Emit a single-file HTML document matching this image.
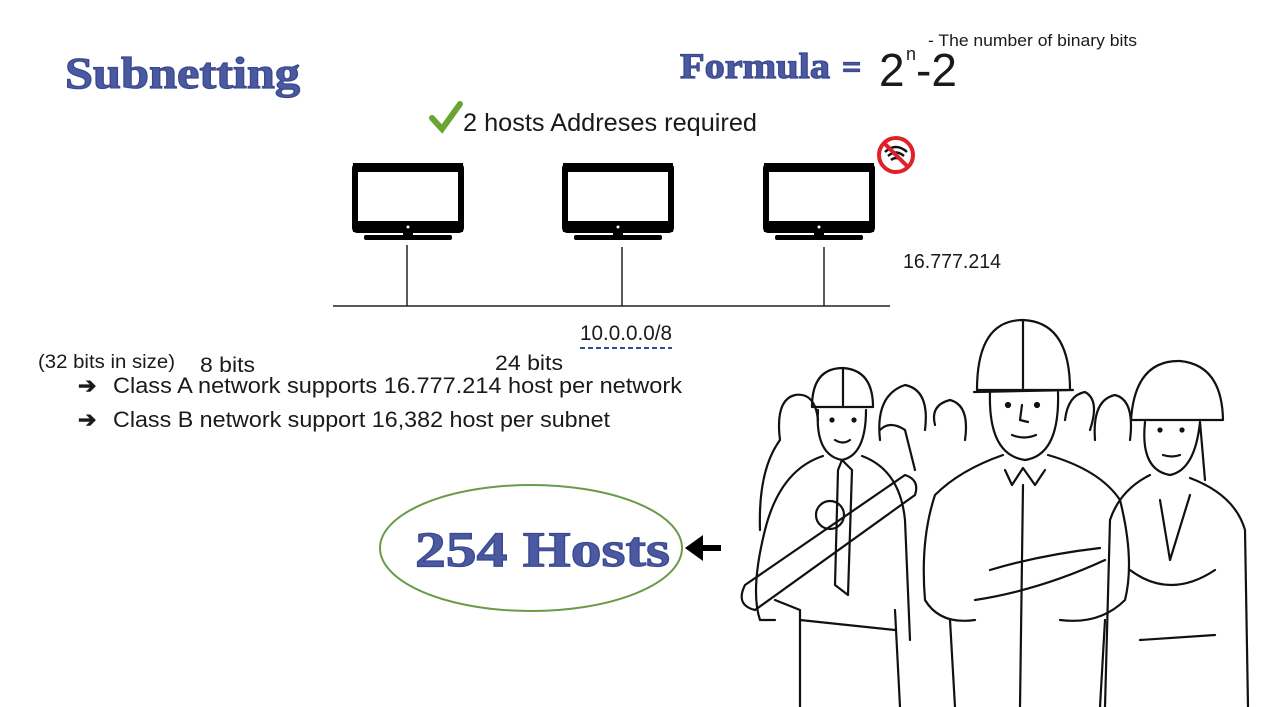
<!DOCTYPE html>
<html><head><meta charset="utf-8"><style>
html,body{margin:0;padding:0;background:#fff;}
svg{display:block;}
.hand{font-family:"Liberation Sans",sans-serif;fill:#1a1a1a;}
.title{font-family:"Liberation Serif",serif;font-weight:bold;fill:#4b5aa0;stroke:#3a4890;stroke-width:1.2;}
.ln{fill:none;stroke:#111;stroke-width:2.2;stroke-linecap:round;stroke-linejoin:round;}
</style></head><body>
<svg width="1262" height="707" viewBox="0 0 1262 707">
<text class="title" x="65" y="88" font-size="44" textLength="235" lengthAdjust="spacingAndGlyphs">Subnetting</text>
<text class="title" x="680" y="78" font-size="36" textLength="150" lengthAdjust="spacingAndGlyphs">Formula</text>
<text class="title" x="842" y="78" font-size="34">=</text>
<text class="hand" x="879" y="86" font-size="46">2</text>
<text class="hand" x="906" y="60" font-size="18">n</text>
<text class="hand" x="916" y="86" font-size="46">-2</text>
<text class="hand" x="928" y="46" font-size="17" textLength="209" lengthAdjust="spacingAndGlyphs">- The number of binary bits</text>
<path d="M432 118 L442 129 L460 104" fill="none" stroke="#6aa532" stroke-width="6" stroke-linecap="round"/>
<text class="hand" x="463" y="131" font-size="25" textLength="294" lengthAdjust="spacingAndGlyphs">2 hosts Addreses required</text>
<g>
<rect x="355" y="166" width="106" height="64" fill="#fff" stroke="#000" stroke-width="6" rx="2"/><rect x="353" y="163" width="110" height="9" fill="#000"/><rect x="353" y="221" width="110" height="11" fill="#000"/><rect x="403" y="230" width="10" height="6" fill="#000"/><rect x="364" y="235" width="88" height="5" fill="#000" rx="2"/><circle cx="408" cy="227" r="1.5" fill="#fff"/></g>
<g>
<rect x="565" y="166" width="106" height="64" fill="#fff" stroke="#000" stroke-width="6" rx="2"/><rect x="563" y="163" width="110" height="9" fill="#000"/><rect x="563" y="221" width="110" height="11" fill="#000"/><rect x="613" y="230" width="10" height="6" fill="#000"/><rect x="574" y="235" width="88" height="5" fill="#000" rx="2"/><circle cx="618" cy="227" r="1.5" fill="#fff"/></g>
<g>
<rect x="766" y="166" width="106" height="64" fill="#fff" stroke="#000" stroke-width="6" rx="2"/><rect x="764" y="163" width="110" height="9" fill="#000"/><rect x="764" y="221" width="110" height="11" fill="#000"/><rect x="814" y="230" width="10" height="6" fill="#000"/><rect x="775" y="235" width="88" height="5" fill="#000" rx="2"/><circle cx="819" cy="227" r="1.5" fill="#fff"/></g>
<g stroke="#222" stroke-width="1.5">
<line x1="407" y1="245" x2="407" y2="306"/><line x1="622" y1="247" x2="622" y2="306"/><line x1="824" y1="247" x2="824" y2="306"/><line x1="333" y1="306" x2="890" y2="306"/></g>
<g>
<circle cx="896" cy="155" r="17" fill="#fff" stroke="#e0202a" stroke-width="4"/>
<path d="M885 152 Q896 142 907 152 M888 156 Q896 149 904 156 M891 160 Q896 156 901 160" fill="none" stroke="#111" stroke-width="2.5"/>
<line x1="884" y1="143" x2="908" y2="167" stroke="#e0202a" stroke-width="4"/></g>
<text class="hand" x="903" y="268" font-size="20" textLength="98" lengthAdjust="spacingAndGlyphs">16.777.214</text>
<text class="hand" x="580" y="340" font-size="21" textLength="92" lengthAdjust="spacingAndGlyphs">10.0.0.0/8</text>
<line x1="580" y1="348" x2="672" y2="348" stroke="#3a4890" stroke-width="2" stroke-dasharray="5,3"/>
<text class="hand" x="38" y="368" font-size="19" textLength="137" lengthAdjust="spacingAndGlyphs">(32 bits in size)</text>
<text class="hand" x="200" y="372" font-size="21" textLength="55" lengthAdjust="spacingAndGlyphs">8 bits</text>
<text class="hand" x="495" y="370" font-size="21" textLength="68" lengthAdjust="spacingAndGlyphs">24 bits</text>
<text class="hand" x="78" y="393" font-size="22" font-weight="bold">➔</text>
<text class="hand" x="113" y="393" font-size="22" textLength="569" lengthAdjust="spacingAndGlyphs">Class A network supports 16.777.214 host per network</text>
<text class="hand" x="78" y="427" font-size="22" font-weight="bold">➔</text>
<text class="hand" x="113" y="427" font-size="22" textLength="497" lengthAdjust="spacingAndGlyphs">Class B network support 16,382 host per subnet</text>
<ellipse cx="531" cy="548" rx="151" ry="63" fill="none" stroke="#6a9a4a" stroke-width="2"/>
<text class="title" x="415" y="566" font-size="50" textLength="255" lengthAdjust="spacingAndGlyphs">254 Hosts</text>
<g>
<line x1="700" y1="548" x2="721" y2="548" stroke="#000" stroke-width="6"/>
<path d="M685 548 L703 535 L703 561 Z" fill="#000"/></g>
<g class="ln">
<path d="M760 530 Q758 470 780 440 Q775 400 795 395 Q815 392 818 420 M880 440 Q875 395 905 385 Q930 390 925 430 M935 425 Q930 405 950 400 Q970 405 965 440 M1065 420 Q1068 395 1085 392 Q1100 400 1090 430 M1095 440 Q1092 400 1115 395 Q1135 400 1130 440"/>
<path d="M812 407 Q812 368 843 368 Q873 370 873 407 Z M843 368 L843 405"/>
<path d="M818 410 Q815 455 842 460 Q866 455 866 410"/>
<circle cx="832" cy="420" r="1.5" fill="#111"/><circle cx="854" cy="420" r="1.5" fill="#111"/>
<path d="M835 440 Q843 445 850 440"/>
<path d="M842 460 L838 470 L835 585 L848 595 L852 470 Z"/>
<path d="M823 456 Q780 470 765 530 Q750 590 760 620 L775 620 M862 456 Q900 470 905 520 L910 640 M775 600 L800 610 L800 707 M895 610 L900 707 M800 620 L895 630"/>
<path d="M745 585 L905 475 Q920 480 915 495 L755 610 Q735 605 745 585 Z"/>
<circle cx="830" cy="515" r="14"/>
<path d="M880 430 Q890 420 905 430 L915 470"/>
<path d="M977 390 Q977 320 1023 320 Q1070 322 1070 390 Z M1023 320 L1023 388 M974 392 L1073 390"/>
<path d="M990 392 Q988 455 1025 460 Q1060 455 1058 392"/>
<circle cx="1008" cy="405" r="2" fill="#111"/><circle cx="1037" cy="405" r="2" fill="#111"/>
<path d="M1022 405 L1020 420 L1028 422 M1012 435 Q1024 440 1036 435"/>
<path d="M1003 455 Q960 470 935 495 Q920 540 925 600 Q940 625 975 620 M1048 455 Q1100 470 1120 500 Q1135 560 1125 600 Q1100 625 1060 620"/>
<path d="M990 570 Q1040 555 1100 548 M975 600 Q1040 590 1105 560 M1005 470 L1012 485 L1023 468 L1035 485 L1045 470 M1023 485 L1020 707 M950 620 L955 707 M1105 620 L1100 707"/>
<path d="M1131 420 Q1135 360 1180 361 Q1222 365 1223 420 Z"/>
<path d="M1145 422 Q1140 470 1170 475 Q1195 470 1200 422 L1205 480"/>
<circle cx="1160" cy="430" r="1.5" fill="#111"/><circle cx="1182" cy="430" r="1.5" fill="#111"/>
<path d="M1163 455 Q1172 458 1180 455"/>
<path d="M1150 475 Q1120 490 1110 520 L1105 707 M1190 478 Q1235 495 1245 530 L1248 707 M1130 570 Q1170 600 1215 570 M1160 500 L1170 560 L1190 495 M1140 640 L1215 635"/>
</g>
</svg>
</body></html>
